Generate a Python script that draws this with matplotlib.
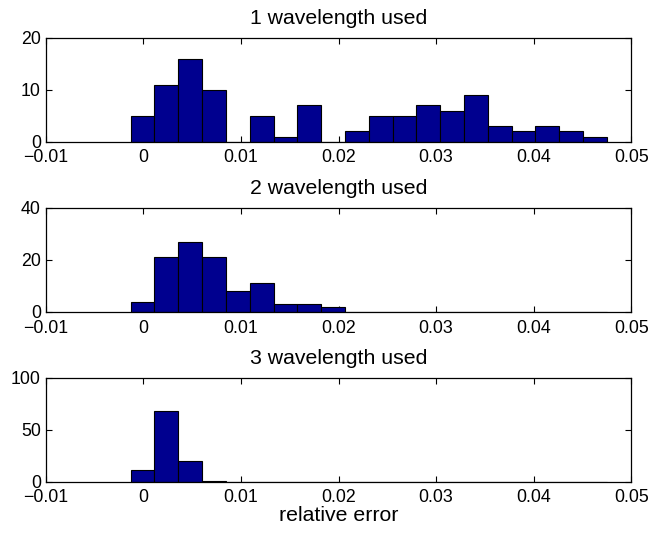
import numpy as np
import matplotlib
matplotlib.use("Agg")
import matplotlib.pyplot as plt

plt.rcParams['font.family'] = ['Liberation Sans', 'DejaVu Sans']

# histogram bin range shared by all three panels
bin_lo = -0.0013
bin_hi = 0.0475
n_bins = 20

titles = ["1 wavelength used", "2 wavelength used", "3 wavelength used"]

counts_1 = [5, 11, 16, 10, 0, 5, 1, 7, 0, 2, 5, 5, 7, 6, 9, 3, 2, 3, 2, 1]
counts_2 = [4, 21, 27, 21, 8, 11, 3, 3, 2, 0, 0, 0, 0, 0, 0, 0, 0, 0, 0, 0]
counts_3 = [11, 68, 20, 1, 0, 0, 0, 0, 0, 0, 0, 0, 0, 0, 0, 0, 0, 0, 0, 0]

y_ticks = [[0, 10, 20], [0, 20, 40], [0, 50, 100]]
x_ticks = [-0.01, 0, 0.01, 0.02, 0.03, 0.04, 0.05]
x_tick_labels = ["\u22120.01", "0", "0.01", "0.02", "0.03", "0.04", "0.05"]

edges = np.linspace(bin_lo, bin_hi, n_bins + 1)
width = edges[1] - edges[0]

fig = plt.figure(figsize=(6.53, 5.38), dpi=100)
left, w, h = 0.070, 0.8968, 0.1933
bottoms = [0.7366, 0.4201, 0.1046]

for counts, title, yt, b in zip([counts_1, counts_2, counts_3], titles, y_ticks, bottoms):
    ax = fig.add_axes([left, b, w, h])
    ax.bar(edges[:-1], counts, width=width, align='edge',
           color='#00008f', edgecolor='black', linewidth=0.8, zorder=2)
    ax.set_xlim(-0.01, 0.05)
    ax.set_ylim(yt[0], yt[-1])
    ax.set_xticks(x_ticks)
    ax.set_xticklabels(x_tick_labels)
    ax.set_yticks(yt)
    ax.tick_params(direction='in', length=4, width=0.8, labelsize=12.8,
                   top=True, right=True)
    ax.tick_params(axis='x', pad=5.5)
    ax.tick_params(axis='y', pad=3.5)
    for s in ax.spines.values():
        s.set_linewidth(0.9)
        s.set_zorder(3)
    ax.set_title(title, fontsize=15.3, pad=10)
    last_ax = ax

last_ax.set_xlabel("relative error", fontsize=15.3, labelpad=0)

fig.savefig("out.png", dpi=100)
